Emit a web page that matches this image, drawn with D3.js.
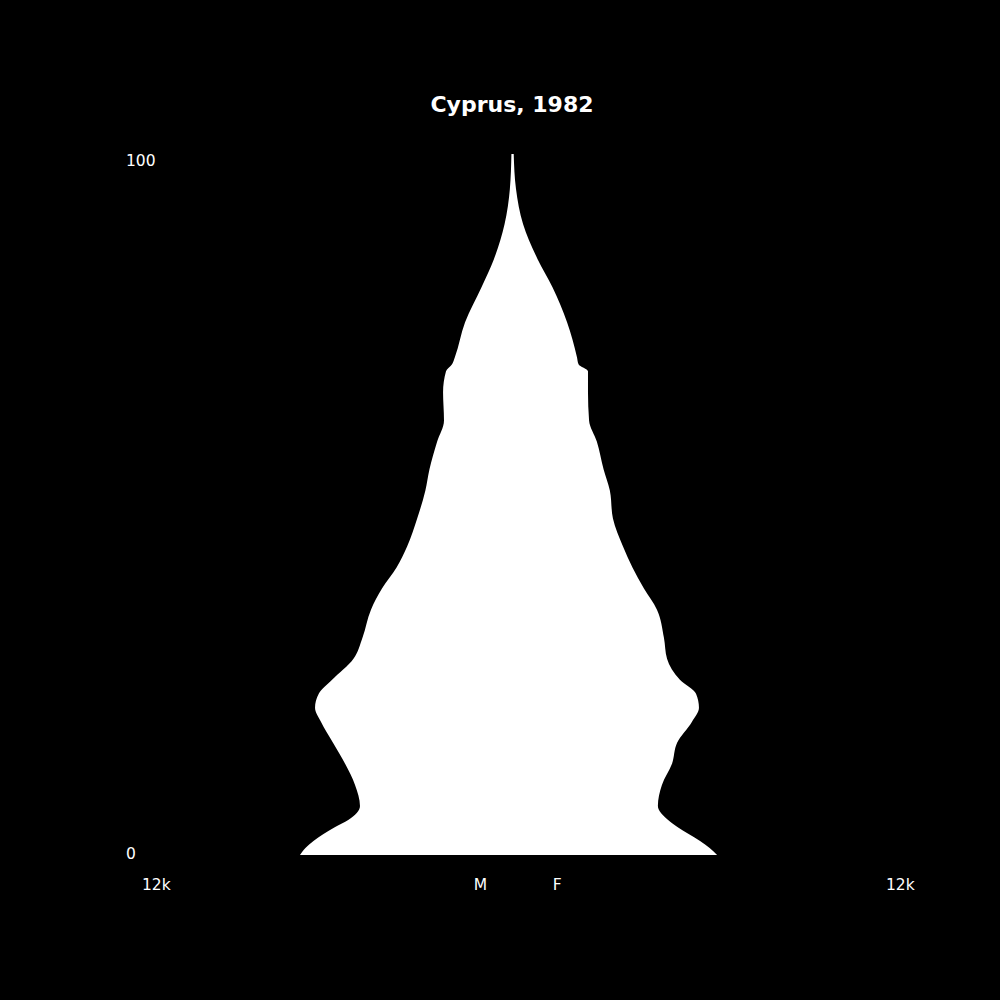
<!DOCTYPE html>
<html>
<head>
<meta charset="utf-8">
<script src="https://cdn.jsdelivr.net/npm/d3@7"></script>
<style>
  html, body { margin: 0; padding: 0; background: #000; }
  svg { display: block; }
</style>
</head>
<body>
<div class="chart"></div>
<script>
const width = 1000;
const height = 1000;

const title = "Cyprus, 1982";
const ages = [0, 1, 2, 4, 5, 7, 10, 13, 16, 19, 21, 23, 25, 28, 31, 35, 38, 41, 44, 48, 52, 55, 59, 62, 66, 69, 70, 71, 76, 81, 85, 90, 95, 100];
const male = [6855, 6680, 6420, 5720, 5300, 4920, 5080, 5400, 5790, 6180, 6370, 6250, 5820, 5130, 4840, 4565, 4210, 3740, 3400, 3075, 2810, 2680, 2430, 2210, 2240, 2145, 1950, 1860, 1530, 1000, 600, 255, 85, 35];
const female = [6600, 6360, 6050, 5320, 5020, 4690, 4820, 5145, 5310, 5790, 6015, 5920, 5400, 4985, 4885, 4660, 4240, 3870, 3565, 3240, 3140, 2940, 2720, 2470, 2435, 2435, 2130, 2080, 1760, 1290, 810, 340, 113, 39];
const xTicks = [-12000, 12000];
const yTicks = [0, 100];

const data = ages.map((a, i) => ({ age: a, m: male[i], f: female[i] }));

const svg = d3.select(".chart")
  .append("svg")
  .attr("width", width)
  .attr("height", height)
  .style("background", "#000");

const x = d3.scaleLinear().domain([-12000, 12000]).range([140.5, 884.5]);
const y = d3.scaleLinear().domain([0, 100]).range([855, 154]);

const area = d3.area()
  .y(d => y(d.age))
  .x0(d => x(-d.m))
  .x1(d => x(d.f))
  .curve(d3.curveMonotoneY);

svg.append("path")
  .datum(data)
  .attr("d", area)
  .attr("fill", "#fff");

svg.append("text")
  .attr("x", 512)
  .attr("y", 112)
  .attr("text-anchor", "middle")
  .attr("fill", "#fff")
  .style("font-family", "DejaVu Sans")
  .style("font-weight", "bold")
  .style("font-size", "22px")
  .text(title);

svg.selectAll(".ylab")
  .data(yTicks)
  .enter().append("text")
  .attr("class", "ylab")
  .attr("x", 126)
  .attr("y", d => y(d) + (d === 0 ? 4 : 12))
  .attr("fill", "#fff")
  .style("font-family", "DejaVu Sans")
  .style("font-size", "15.5px")
  .text(d => d);

svg.selectAll(".xlab")
  .data(xTicks)
  .enter().append("text")
  .attr("class", "xlab")
  .attr("x", d => x(d) + 1.5)
  .attr("y", 890)
  .attr("fill", "#fff")
  .style("font-family", "DejaVu Sans")
  .style("font-size", "15.5px")
  .text(d => Math.abs(d) / 1000 + "k");

svg.selectAll(".sexlab")
  .data([["M", -1250], ["F", 1300]])
  .enter().append("text")
  .attr("class", "sexlab")
  .attr("x", d => x(d[1]))
  .attr("y", 890)
  .attr("fill", "#fff")
  .style("font-family", "DejaVu Sans")
  .style("font-size", "15.5px")
  .text(d => d[0]);
</script>
</body>
</html>
